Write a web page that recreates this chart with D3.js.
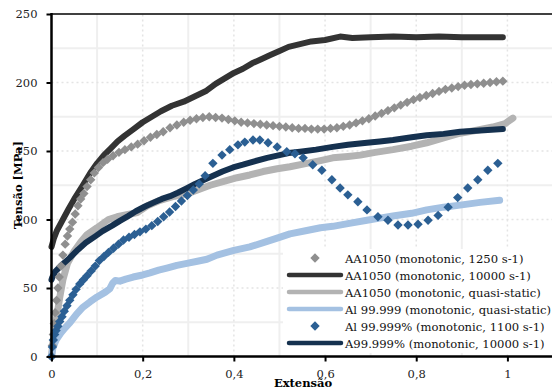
<!DOCTYPE html>
<html>
<head>
<meta charset="utf-8">
<script src="https://cdn.jsdelivr.net/npm/d3@7"></script>
<style>
  body { margin: 0; background: #fff; }
  svg { display: block; font-family: "DejaVu Serif", serif; }
</style>
</head>
<body>
<div id="chart"></div>
<script>
// Data: strain (Extensão) and stress (Tensão, MPa)
var legendLabels = [
    "AA1050 (monotonic, 1250 s-1)",
    "AA1050 (monotonic, 10000 s-1)",
    "AA1050 (monotonic, quasi-static)",
    "Al 99.999 (monotonic, quasi-static)",
    "Al 99.999% (monotonic, 1100 s-1)",
    "A99.999% (monotonic, 10000 s-1)"
];

var aa1250X = [0,0.002,0.004,0.006,0.008,0.011,0.014,0.017,0.021,0.025,0.03,0.035,0.04,0.046,0.052,0.058,0.064,0.071,0.078,0.086,0.094,0.103,0.113,0.123,0.135,0.148,0.161,0.175,0.189,0.203,0.217,0.231,0.245,0.26,0.275,0.29,0.304,0.318,0.332,0.346,0.36,0.374,0.388,0.402,0.416,0.43,0.444,0.458,0.472,0.486,0.5,0.514,0.528,0.542,0.556,0.57,0.584,0.598,0.612,0.626,0.64,0.654,0.668,0.682,0.696,0.71,0.724,0.738,0.752,0.766,0.78,0.794,0.808,0.822,0.836,0.85,0.864,0.878,0.892,0.906,0.92,0.934,0.948,0.962,0.976,0.99];
var aa1250Y = [0,8,16,24,32,41,50,58,66,74,82,88,93,98,104,110,115,119,124,129,134,138,141.5,144,146.5,149,151,153,155,157.5,160,162,164,167,169,171,172.5,173.5,174.5,175,174.5,174,173,172,171,170.5,170,169.5,169,168.5,168,167.5,167,166.5,166.5,166,166,166,166.5,167,168,169,170.5,172,173.5,175.5,177.5,179.5,181.5,183.5,185.5,187.5,189,190.5,192,193.5,195,196,197,198,198.5,199,199.5,200,200.5,201];

var aa10000X = [0,0.005,0.012,0.025,0.038,0.05,0.067,0.085,0.1,0.115,0.13,0.145,0.16,0.18,0.2,0.22,0.24,0.264,0.29,0.315,0.34,0.36,0.38,0.4,0.42,0.44,0.46,0.48,0.5,0.52,0.545,0.57,0.6,0.633,0.66,0.7,0.75,0.8,0.85,0.9,0.95,0.99];
var aa10000Y = [80,86,92,100,108,115,124,134,141,147,152,157,161,166,171,175,179,183,186,190,194,199,203,207,210,214,217,220,223,226,228,230,231,233.5,232.5,233,233.5,233,233.5,233,233,233];

var aaQsX = [0,0.003,0.007,0.012,0.018,0.025,0.035,0.05,0.065,0.078,0.1,0.125,0.144,0.165,0.188,0.21,0.238,0.27,0.304,0.348,0.38,0.407,0.435,0.464,0.495,0.523,0.56,0.59,0.617,0.65,0.677,0.71,0.749,0.79,0.823,0.86,0.896,0.93,0.968,0.995,1.012];
var aaQsY = [0,10,20,30,43,56,68,77,84,89,94,100,102,103.5,105,110,114,117,119.5,125,128,130.5,132.5,135,137,138.5,141,143,145,146,147,149,151,153.5,156,159.5,163,165,167.5,170,174];

var alQsX = [0,0.003,0.01,0.02,0.03,0.04,0.055,0.069,0.085,0.1,0.118,0.128,0.134,0.14,0.15,0.163,0.179,0.2,0.216,0.235,0.253,0.275,0.297,0.32,0.341,0.363,0.4,0.435,0.473,0.5,0.523,0.56,0.59,0.617,0.65,0.692,0.72,0.749,0.79,0.823,0.86,0.896,0.94,0.983];
var alQsY = [0,6,12,17,21,24.5,31,36,40,43.5,47,49.5,53.5,55.5,55,56.5,58,59.5,61,63,64.5,66.5,68,69.5,71,74,77.5,80,84,87,89.5,92,94,95,97,99.5,101,102.5,104.5,107,109,110.5,112.5,114];

var al1100X = [0,0.002,0.004,0.007,0.01,0.014,0.018,0.023,0.028,0.034,0.04,0.047,0.054,0.062,0.07,0.078,0.087,0.096,0.105,0.115,0.125,0.136,0.147,0.158,0.17,0.182,0.194,0.207,0.22,0.233,0.246,0.259,0.272,0.285,0.298,0.311,0.324,0.337,0.354,0.374,0.391,0.409,0.424,0.442,0.457,0.475,0.495,0.516,0.534,0.552,0.573,0.593,0.615,0.633,0.65,0.672,0.692,0.716,0.738,0.76,0.782,0.804,0.826,0.848,0.87,0.891,0.913,0.935,0.957,0.979];
var al1100Y = [0,7,12,16,19,22,25.5,29,33,37,41,45,49,53,56,59,62.5,66,70,73,76,79,82,85,87,89,91,93,95.5,98.5,102,105.5,109.5,113.5,117.5,121.5,126,132,141,147,151,154.5,156.5,158,158,156,153,149.5,148,145,140,136,129,123,118,113,107,102,99.5,96,96,96.5,99.5,103,109,116,123,129,136,141];

var al10000X = [0,0.002,0.008,0.02,0.04,0.058,0.075,0.095,0.112,0.133,0.15,0.168,0.185,0.205,0.225,0.242,0.26,0.277,0.295,0.315,0.335,0.352,0.375,0.398,0.42,0.445,0.473,0.5,0.52,0.545,0.58,0.617,0.65,0.692,0.72,0.749,0.79,0.823,0.86,0.896,0.94,0.99];
var al10000Y = [56,58,62,66,72,78,83,87.5,91.5,95.5,99,102.5,106,109.5,112.5,115,117,119.5,122.5,126,129,131.5,135,138,140,142.5,145,147,148.5,149.5,151,153,154.5,156,157,158,160,161.5,162.5,164,165,166];

var xTicks = [0, 0.2, 0.4, 0.6, 0.8, 1];
var xTickLabels = ["0", "0,2", "0,4", "0,6", "0,8", "1"];
var yTicks = [0, 50, 100, 150, 200, 250];

function zip(xs, ys) {
    return xs.map(function(d, i) { return [d, ys[i]]; });
}

function DrawChart() {
    var w = 552, h = 391;
    var svg = d3.select("#chart").append("svg")
	.attr("width", w)
	.attr("height", h);

    var x = d3.scaleLinear().domain([0, 1.1]).range([51.5, 553]);
    var y = d3.scaleLinear().domain([0, 250]).range([356.5, 14]);

    // Gridlines: solid minor lines between dotted major ones
    var minorX = d3.range(0.1, 1.1, 0.2), majorX = [0.2, 0.4, 0.6, 0.8, 1.0];
    var minorY = [25, 75, 125, 175, 225], majorY = [50, 100, 150, 200];
    var grid = svg.append("g");
    grid.selectAll(".mx").data(minorX).enter().append("line")
	.attr("x1", function(d) { return x(d); }).attr("x2", function(d) { return x(d); })
	.attr("y1", y(0)).attr("y2", y(250))
	.style("stroke", "#efefef").style("stroke-width", 2);
    grid.selectAll(".my").data(minorY).enter().append("line")
	.attr("x1", x(0)).attr("x2", w)
	.attr("y1", function(d) { return y(d); }).attr("y2", function(d) { return y(d); })
	.style("stroke", "#efefef").style("stroke-width", 2);
    grid.selectAll(".Mx").data(majorX).enter().append("line")
	.attr("x1", function(d) { return x(d); }).attr("x2", function(d) { return x(d); })
	.attr("y1", y(0)).attr("y2", y(250))
	.style("stroke", "#e4e4e4").style("stroke-width", 1.5).style("stroke-dasharray", "2,3");
    grid.selectAll(".My").data(majorY).enter().append("line")
	.attr("x1", x(0)).attr("x2", w)
	.attr("y1", function(d) { return y(d); }).attr("y2", function(d) { return y(d); })
	.style("stroke", "#e4e4e4").style("stroke-width", 1.5).style("stroke-dasharray", "2,3");

    var line = d3.line()
	.x(function(d) { return x(d[0]); })
	.y(function(d) { return y(d[1]); });

    // Lines first, then markers on top (as the spreadsheet does)
    var lines = [
	{ data: zip(aa10000X, aa10000Y), color: "#333333", width: 6 },
	{ data: zip(aaQsX, aaQsY), color: "#b3b3b3", width: 7 },
	{ data: zip(alQsX, alQsY), color: "#a4c1e2", width: 7 },
	{ data: zip(al10000X, al10000Y), color: "#15314f", width: 6 }
    ];
    lines.forEach(function(s) {
	svg.append("path")
	    .attr("d", line(s.data))
	    .style("fill", "none")
	    .style("stroke", s.color)
	    .style("stroke-width", s.width)
	    .style("stroke-linejoin", "round")
	    .style("stroke-linecap", "round");
    });

    var diamond = "M0,-4.7L4.7,0L0,4.7L-4.7,0Z";
    var markers = [
	{ data: zip(aa1250X, aa1250Y), color: "#8f8f8f" },
	{ data: zip(al1100X, al1100Y), color: "#2b5f93" }
    ];
    markers.forEach(function(s) {
	svg.append("g").selectAll("path")
	    .data(s.data)
	    .enter().append("path")
	    .attr("d", diamond)
	    .attr("transform", function(d) { return "translate(" + x(d[0]) + "," + y(d[1]) + ")"; })
	    .style("fill", s.color);
    });

    // Legend
    var lg = svg.append("g");
    lg.append("rect")
	.attr("x", 283).attr("y", 249).attr("width", 269).attr("height", 104)
	.style("fill", "#fff");
    var legendStyle = [
	{ kind: "marker", color: "#8f8f8f" },
	{ kind: "line", color: "#333333", width: 4.5 },
	{ kind: "line", color: "#b3b3b3", width: 4.5 },
	{ kind: "line", color: "#a4c1e2", width: 4.5 },
	{ kind: "marker", color: "#2b5f93" },
	{ kind: "line", color: "#15314f", width: 4.5 }
    ];
    legendLabels.forEach(function(label, i) {
	var ly = 258 + i * 17;
	var st = legendStyle[i];
	if (st.kind == "line") {
	    lg.append("line")
		.attr("x1", 289).attr("x2", 341)
		.attr("y1", ly).attr("y2", ly)
		.style("stroke", st.color)
		.style("stroke-width", st.width)
		.style("stroke-linecap", "round");
	} else {
	    lg.append("path")
		.attr("d", diamond)
		.attr("transform", "translate(315," + ly + ")")
		.style("fill", st.color);
	}
	lg.append("text")
	    .attr("x", 345)
	    .attr("y", ly + 4.5)
	    .style("font-size", "11.6px")
	    .style("fill", "#111")
	    .text(label);
    });

    // Axes
    svg.append("line")
	.attr("x1", x(0)).attr("x2", w)
	.attr("y1", y(250)).attr("y2", y(250))
	.style("stroke", "#000").style("stroke-width", 1.5);

    var xAxis = svg.append("g")
	.attr("transform", "translate(0," + y(0) + ")")
	.call(d3.axisBottom(x).tickValues(xTicks).tickSize(5).tickPadding(8)
	      .tickFormat(function(d, i) { return xTickLabels[i]; }));
    var yAxis = svg.append("g")
	.attr("transform", "translate(" + x(0) + ",0)")
	.call(d3.axisLeft(y).tickValues(yTicks).tickSize(5).tickPadding(9));
    [xAxis, yAxis].forEach(function(a) {
	a.select(".domain").attr("d", null);
	a.selectAll(".tick line").style("stroke", "#000").style("stroke-width", 2);
	a.selectAll(".tick text")
	    .style("font-family", "DejaVu Serif")
	    .style("font-size", "11.5px")
	    .style("fill", "#222");
    });
    svg.append("line")
	.attr("x1", x(0)).attr("x2", x(0))
	.attr("y1", y(250) - 1).attr("y2", y(0) + 1)
	.style("stroke", "#000").style("stroke-width", 2.5);
    svg.append("line")
	.attr("x1", x(0) - 1).attr("x2", w)
	.attr("y1", y(0)).attr("y2", y(0))
	.style("stroke", "#000").style("stroke-width", 2.5);

    // Axis titles
    svg.append("text")
	.attr("x", 303)
	.attr("y", 387)
	.style("text-anchor", "middle")
	.style("font-weight", "bold")
	.style("font-size", "11.5px")
	.text("Extensão");
    svg.append("text")
	.attr("transform", "translate(22,185) rotate(-90)")
	.style("text-anchor", "middle")
	.style("font-weight", "bold")
	.style("font-size", "11.5px")
	.text("Tensão [MPa]");
}

DrawChart();
</script>
</body>
</html>
